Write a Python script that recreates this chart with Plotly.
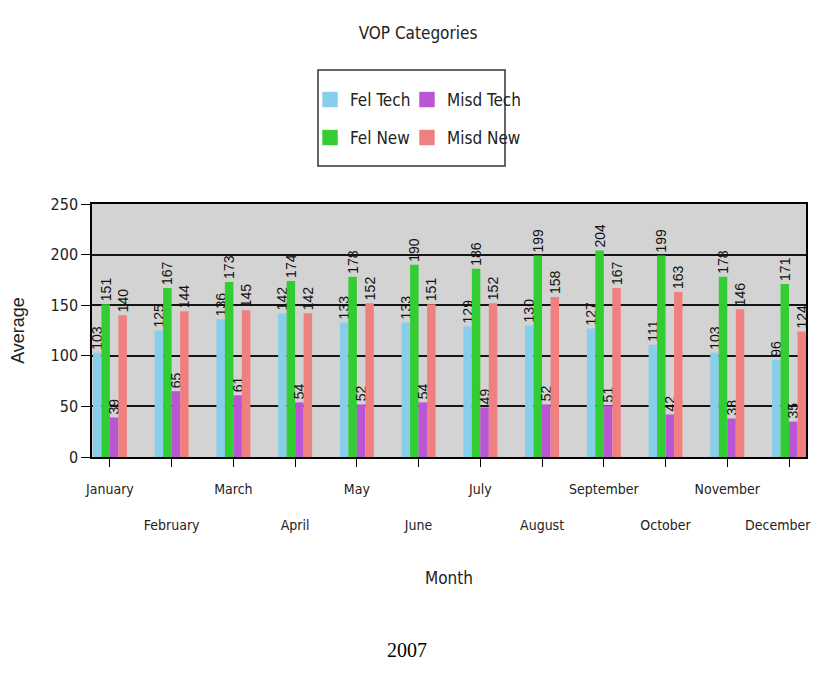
import plotly.graph_objects as go

months = ["January", "February", "March", "April", "May", "June", "July",
          "August", "September", "October", "November", "December"]
fel_tech = [103, 125, 136, 142, 133, 133, 129, 130, 127, 111, 103, 96]
fel_new = [151, 167, 173, 174, 178, 190, 186, 199, 204, 199, 178, 171]
misd_tech = [39, 65, 61, 54, 52, 54, 49, 52, 51, 42, 38, 35]
misd_new = [140, 144, 145, 142, 152, 151, 152, 158, 167, 163, 146, 124]
y_ticks = [0, 50, 100, 150, 200, 250]

NARROW = "DejaVu Sans Condensed, Roboto Condensed, Liberation Sans Narrow, Liberation Sans, Arial, sans-serif"

series = [
    ("Fel Tech", fel_tech, "#87CEEB", "legend"),
    ("Fel New", fel_new, "#32CD32", "legend3"),
    ("Misd Tech", misd_tech, "#BA55D3", "legend2"),
    ("Misd New", misd_new, "#F08080", "legend4"),
]

# page body has an 8px margin on every side: size the figure so the page never overflows
OFF = 8
W, H = 823 - 2 * OFF, 674 - 2 * OFF
L, R, T, B = 92 - OFF, 806 - OFF, 204 - OFF, 457 - OFF

fig = go.Figure()
for name, vals, color, lg in series:
    fig.add_trace(go.Bar(
        name=name, x=months, y=vals, marker=dict(color=color, line=dict(width=0)),
        texttemplate="%{y}", textposition="outside", textangle=-90,
        constraintext="none", cliponaxis=False,
        textfont=dict(family="Liberation Sans, Arial, sans-serif", size=14, color="#111"),
        legend=lg, showlegend=False, legendgroup=name,
    ))
    # legend swatch (larger square than the default bar swatch)
    fig.add_trace(go.Scatter(
        name=name, x=[None], y=[None], mode="markers",
        marker=dict(symbol="square", size=16, color=color,
                    line=dict(color="rgba(255,255,255,0.6)", width=1)),
        legend=lg, showlegend=True, legendgroup=name, hoverinfo="skip",
    ))

# alternate tick labels on two rows; the last one is drawn as a right-anchored
# annotation so that it stays inside the page edge
ticktext = [m if i % 2 == 0 else "<br><br>" + m for i, m in enumerate(months)]
ticktext[-1] = ""

def px2x(px):
    return (px - OFF - L) / (R - L)

def py2y(py):
    return (B - (py - OFF)) / (B - T)

legend_common = dict(font=dict(family=NARROW, size=17, color="#222"),
                     bgcolor="rgba(0,0,0,0)", borderwidth=0, itemsizing="trace",
                     xanchor="left", yanchor="middle", orientation="v")

fig.update_layout(
    width=W, height=H, showlegend=True,
    margin=dict(l=L, r=W - R, t=T, b=H - B, autoexpand=False),
    paper_bgcolor="white", plot_bgcolor="#D3D3D3",
    barmode="group", bargap=0.45, bargroupgap=0,
    title=dict(text="VOP Categories", x=(418 - OFF) / W, xref="container", xanchor="center",
               y=1 - (33 - OFF) / H, yref="container", yanchor="middle",
               font=dict(family=NARROW, size=17, color="#222")),
    legend=dict(x=px2x(310), y=py2y(100), **legend_common),
    legend2=dict(x=px2x(407), y=py2y(100), **legend_common),
    legend3=dict(x=px2x(310), y=py2y(138), **legend_common),
    legend4=dict(x=px2x(407), y=py2y(138), **legend_common),
    xaxis=dict(
        type="category", range=[-0.29, 11.275],
        tickmode="array", tickvals=months, ticktext=ticktext, tickangle=0,
        ticks="outside", ticklen=8, tickcolor="black", ticklabelstandoff=10,
        tickfont=dict(family=NARROW, size=14, color="#222"),
        showline=True, linecolor="black", linewidth=1.5, mirror=True,
        showgrid=False, automargin=False,
        title=dict(text="Month", standoff=40, font=dict(family=NARROW, size=17, color="#222")),
    ),
    yaxis=dict(
        range=[0, 250], tickmode="array", tickvals=y_ticks,
        ticks="outside", ticklen=9, tickcolor="black",
        tickfont=dict(family=NARROW, size=16, color="#222"),
        showline=True, linecolor="black", linewidth=1.5, mirror=True,
        showgrid=True, gridcolor="#151515", gridwidth=2,
        zeroline=False, automargin=False,
        title=dict(text="Average", standoff=22,
                   font=dict(family="Liberation Sans, Arial, sans-serif", size=18, color="#222")),
    ),
    shapes=[dict(type="rect", xref="paper", yref="paper",
                 x0=px2x(318), x1=px2x(505), y0=py2y(166), y1=py2y(70),
                 line=dict(color="#333", width=1.5), fillcolor="rgba(0,0,0,0)")],
    annotations=[
        dict(text=months[-1], xref="x", yref="paper", x=months[-1], y=py2y(525),
             xanchor="right", yanchor="middle", xshift=24, showarrow=False,
             font=dict(family=NARROW, size=14, color="#222")),
        dict(text="2007", xref="paper", yref="paper",
             x=px2x(407), y=py2y(650), xanchor="center", yanchor="middle",
             showarrow=False,
             font=dict(family="Liberation Serif, Times New Roman, serif", size=20, color="black")),
    ],
)

fig.write_html("out.html")
